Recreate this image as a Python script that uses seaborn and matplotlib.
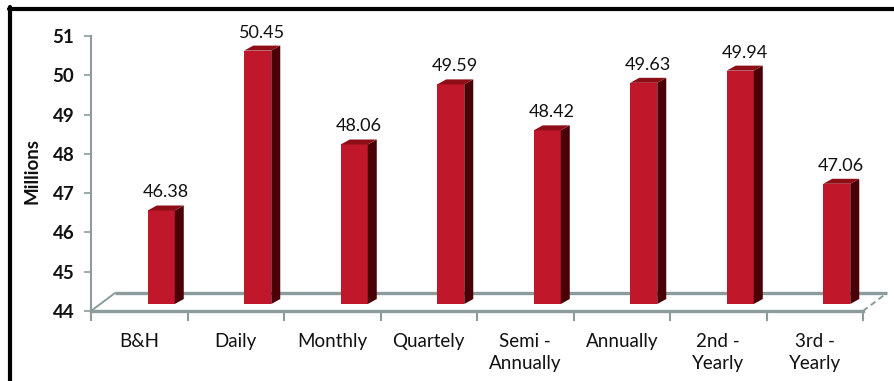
import numpy as np
import pandas as pd
import seaborn as sns
import matplotlib.pyplot as plt
from matplotlib.patches import Polygon
from matplotlib.lines import Line2D

# Final portfolio value (millions) by rebalancing frequency
categories = ["B&H", "Daily", "Monthly", "Quartely", "Semi -\nAnnually",
              "Annually", "2nd -\nYearly", "3rd -\nYearly"]
values = [46.38, 50.45, 48.06, 49.59, 48.42, 49.63, 49.94, 47.06]
y_ticks = [44, 45, 46, 47, 48, 49, 50, 51]
y_label = "Millions"

FRONT = "#C1172B"
SIDE = "#4A0007"
TOP = "#8E0E17"
FLOOR = "#8C9C9C"

sns.set_theme(style="white")
plt.rcParams["font.family"] = ["Lato", "DejaVu Sans"]

W, H = 894, 381
fig = plt.figure(figsize=(W / 100, H / 100), dpi=100)
ax_left, ax_right, ax_top, ax_bot = 91, 863, 36, 311
ax = fig.add_axes([ax_left / W, (H - ax_bot) / H,
                   (ax_right - ax_left) / W, (ax_bot - ax_top) / H])

df = pd.DataFrame({"strategy": categories, "value": values})
sns.barplot(data=df, x="strategy", y="value", color=FRONT, saturation=1,
            width=0.28, ax=ax, zorder=3)

ax.set_xlim(-0.5, len(categories) - 0.5)
ax.set_ylim(y_ticks[0], y_ticks[-1])

# pixel -> data unit conversions for the pseudo-3D depth
px_x = (ax_right - ax_left) / (len(categories))
px_y = (ax_bot - ax_top) / (y_ticks[-1] - y_ticks[0])
shift_x = 22 / px_x          # bars sit behind the front floor edge
lift_y = 7 / px_y
dx, dy = 9 / px_x, 5 / px_y  # bar depth

base = y_ticks[0]
for patch, v in zip(ax.patches, values):
    patch.set_x(patch.get_x() + shift_x)
    patch.set_y(base + lift_y)
    patch.set_height(v - base)
    patch.set_edgecolor("none")
    xl = patch.get_x()
    xr = xl + patch.get_width()
    yb = base + lift_y
    yt = yb + (v - base)
    side = Polygon([(xr, yb), (xr, yt), (xr + dx, yt + dy), (xr + dx, yb + dy)],
                   closed=True, facecolor=SIDE, edgecolor="none", zorder=3)
    top = Polygon([(xl, yt), (xr, yt), (xr + dx, yt + dy), (xl + dx, yt + dy)],
                  closed=True, facecolor=TOP, edgecolor="none", zorder=3)
    ax.add_patch(side)
    ax.add_patch(top)
    ax.annotate(f"{v:.2f}", ((xl + xr) / 2 + dx / 2, yt + dy),
                xytext=(0, 5), textcoords="offset pixels",
                ha="center", va="bottom", fontsize=13, color="#111111",
                annotation_clip=False)

# floor of the 3D plot
fdx, fdy = 24 / px_x, 18 / px_y
x0, x1 = -0.5, len(categories) - 0.5
ax.plot([x0 + fdx, x1 + fdx], [base + fdy, base + fdy], color=FLOOR,
        lw=2.4, clip_on=False, zorder=2, solid_capstyle="butt")
ax.plot([x0, x0 + fdx], [base, base + fdy], color=FLOOR, lw=1.4,
        clip_on=False, zorder=2)
ax.plot([x1, x1 + fdx], [base, base + fdy], color=FLOOR, lw=1.4,
        ls=(0, (3, 2)), clip_on=False, zorder=2)

for s in ["top", "right"]:
    ax.spines[s].set_visible(False)
ax.spines["left"].set_color(FLOOR)
ax.spines["left"].set_linewidth(1.5)
ax.spines["bottom"].set_color(FLOOR)
ax.spines["bottom"].set_linewidth(2.4)

ax.set_yticks(y_ticks)
ax.set_yticklabels([str(t) for t in y_ticks], fontweight="bold", fontsize=13.5)
ax.tick_params(axis="y", left=True, length=5, width=1.2, color=FLOOR,
               pad=7, labelcolor="#111111")

ax.set_xticks(range(len(categories)))
ax.set_xticklabels(categories, fontsize=13.5, linespacing=1.35, va="top")
ax.set_xticks(np.arange(-0.5, len(categories)), minor=True)
ax.tick_params(axis="x", which="major", length=0, pad=16, labelcolor="#111111")
ax.tick_params(axis="x", which="minor", bottom=True, length=7, width=1.5,
               color=FLOOR)

ax.set_xlabel("")
ax.set_ylabel(y_label, fontweight="bold", fontsize=13.5, color="#111111")
ax.yaxis.set_label_coords(-0.065, 0.51)

# frame lines along the top and left edges of the image
fig.add_artist(Line2D([10 / W, 10 / W], [0, 1 - 7 / H], color="black",
                      lw=3, transform=fig.transFigure))
fig.add_artist(Line2D([8.5 / W, 1], [1 - 8.5 / H, 1 - 8.5 / H], color="black",
                      lw=3, transform=fig.transFigure))

fig.savefig("out.png", dpi=100)
